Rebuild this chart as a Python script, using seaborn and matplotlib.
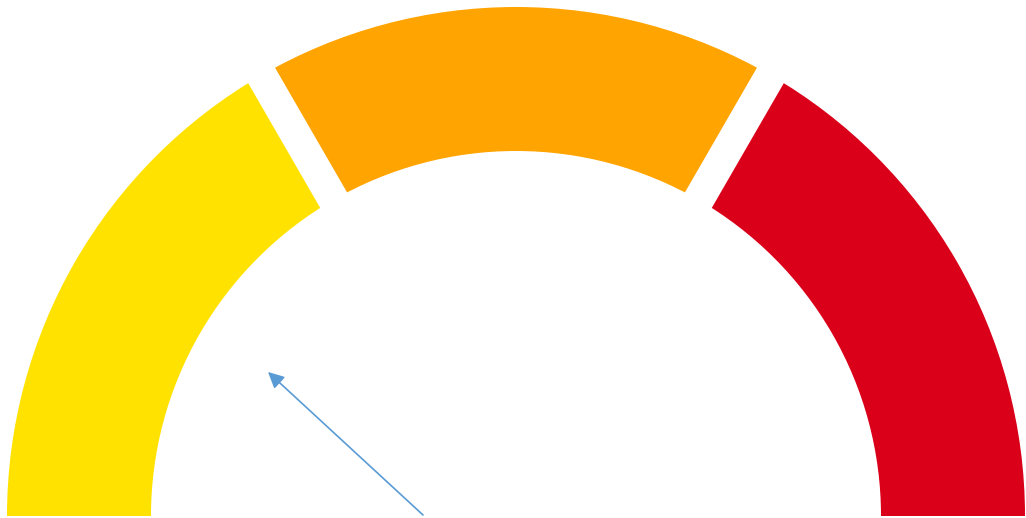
import numpy as np
import seaborn as sns
import matplotlib.pyplot as plt

# Datos del indicador (tres tramos iguales)
tramos = ["Bajo", "Medio", "Alto"]
valores = [1, 1, 1]
colores = ["#FFE200", "#FFA400", "#DB001A"]

# Flecha (cola -> punta), en píxeles relativos al centro del indicador
flecha_cola = (-93, 1)
flecha_punta = (-248, 144)

sns.set_theme(style="white")

radio_ext = 509
grosor = 144
hueco = 31  # ancho del separador blanco en px

fig = plt.figure(figsize=(10.26, 5.18), dpi=100)
ax = fig.add_axes([0, 0, 1, 1])

# Semianillo: la mitad inferior queda invisible
ax.pie(valores + [sum(valores)], colors=colores + ["none"], startangle=180,
       counterclock=False, radius=radio_ext,
       wedgeprops=dict(width=grosor, linewidth=0))

# Separadores blancos entre tramos
acum = np.cumsum(valores)[:-1] / sum(valores)
for f in acum:
    ang = np.deg2rad(180 - 180 * f)
    r = np.array([radio_ext - grosor - 20, radio_ext + 20])
    ax.plot(r * np.cos(ang), r * np.sin(ang), color="white",
            lw=hueco * 72 / 100, solid_capstyle="butt")

ax.annotate("", xy=flecha_punta, xytext=flecha_cola,
            arrowprops=dict(arrowstyle="-|>", color="#5B9BD5", lw=1.2,
                            mutation_scale=24, shrinkA=0, shrinkB=0))

ax.set_xlim(-516, 510)
ax.set_ylim(-2, 516)
ax.set_aspect("auto")
ax.axis("off")

plt.savefig("out.png", dpi=100)
plt.close()
